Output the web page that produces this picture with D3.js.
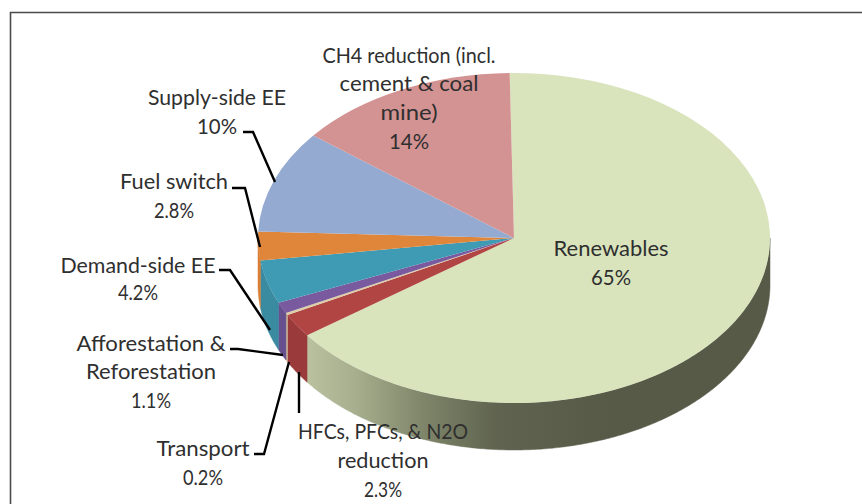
<!DOCTYPE html>
<html><head><meta charset="utf-8">
<script src="https://cdn.jsdelivr.net/npm/d3@7"></script>
<style>html,body{margin:0;padding:0;background:#fff}svg{display:block}text{font-family:Lato,"Open Sans",sans-serif;font-size:21px;fill:#2f2f2f}</style>
</head><body><svg id="c" width="862" height="504"></svg>
<script>
const categories = ["Renewables","HFCs, PFCs, & N2O reduction","Transport","Afforestation & Reforestation","Demand-side EE","Fuel switch","Supply-side EE","CH4 reduction (incl. cement & coal mine)"];
const values = [65,2.3,0.2,1.1,4.2,2.8,10,14];
const valueLabels = ["65%","2.3%","0.2%","1.1%","4.2%","2.8%","10%","14%"];
const topColors = ["#d9e4bd","#b14543","#dccfa8","#7a5a9f","#3f9bb4","#e0863a","#95aad1","#d39392"];
const sideColors = ["url(#g)","#9a3a3a","#c9b998","#66508e","#3a8aa0","#d97f35","#7f93b8","#b57e7d"];

// layout
const cx=514, cy=238, rx=256, ry=165, depth=47;
const labelLines = [["Renewables"],["HFCs, PFCs, & N2O","reduction"],["Transport"],["Afforestation &","Reforestation"],["Demand-side EE"],["Fuel switch"],["Supply-side EE"],["CH4 reduction (incl.","cement & coal","mine)"]];
const lineWidths = [[115,40],[170,91,38],[93,40],[149,130,40],[155,40],[108,40],[138,40],[173,139,57,40]];
const labelX = [611,383,203,151,138,174,217,409];
const labelY = [247,430,447,342,264,180,96,54];
const lineGap = [29,29,29,28.5,27,29,29,28.7];
const leaders = [null,
 [[299,372],[299,413]],
 [[254,454],[264,454],[289,362]],
 [[230,349],[238,349],[283,355]],
 [[219,270],[230,270],[270,330]],
 [[232,188],[245,188],[260,247]],
 [[243,132],[253,132],[275,182]],
 null];

const svg=d3.select("#c");
const defs=svg.append("defs");
const grad=defs.append("linearGradient").attr("id","g").attr("gradientUnits","userSpaceOnUse")
  .attr("x1",300).attr("x2",770).attr("y1",0).attr("y2",0);
[[0,"#bcc4a2"],[0.12,"#a6ae8d"],[0.26,"#7f866a"],[0.42,"#5f634f"],[0.65,"#565a47"],[1,"#565a47"]]
  .forEach(([o,c])=>grad.append("stop").attr("offset",o).attr("stop-color",c));

// frame: top and left only
const frame=d3.path();frame.moveTo(10.5,504);frame.lineTo(10.5,12.5);frame.lineTo(862,12.5);
svg.append("path").attr("d",frame.toString()).attr("fill","none").attr("stroke","#4a4a4a").attr("stroke-width",1.6);

const start=-1*Math.PI/180;
const pie=d3.pie().sort(null).value(d=>d).startAngle(start).endAngle(start+2*Math.PI);
const arcs=pie(values);
const px=a=>cx+rx*Math.sin(a), py=a=>cy-ry*Math.cos(a);

// outer wall of each slice: front half only
const gSide=svg.append("g");
const line=d3.line();
arcs.forEach((d,i)=>{
  const a0=Math.max(d.startAngle,Math.PI/2), a1=Math.min(d.endAngle,3*Math.PI/2);
  if(a1<=a0) return;
  const angles=d3.range(a0,a1,0.01).concat([a1]);
  const upper=angles.map(a=>[px(a),py(a)]);
  const lower=angles.slice().reverse().map(a=>[px(a),py(a)+depth]);
  gSide.append("path").attr("d",line(upper.concat(lower))+"Z")
    .attr("fill",sideColors[i]).attr("stroke",sideColors[i]).attr("stroke-width",0.5);
});

// top face
const arc=d3.arc().innerRadius(0).outerRadius(1);
svg.append("g").attr("transform",`translate(${cx},${cy}) scale(${rx},${ry})`)
  .selectAll("path").data(arcs).join("path")
  .attr("d",arc).attr("fill",(d,i)=>topColors[i]);

// leaders
svg.append("g").selectAll("path").data(leaders.filter(Boolean)).join("path")
  .attr("d",d=>line(d)).attr("fill","none").attr("stroke","#000").attr("stroke-width",2.4);

// labels
const gText=svg.append("g");
categories.forEach((c,i)=>{
  labelLines[i].concat([valueLabels[i]]).forEach((s,k)=>{
    gText.append("text").attr("text-anchor","middle").attr("dominant-baseline","central")
      .attr("x",labelX[i]).attr("y",labelY[i]+k*lineGap[i])
      .attr("textLength",lineWidths[i][k]).attr("lengthAdjust","spacingAndGlyphs").text(s);
  });
});
</script></body></html>
